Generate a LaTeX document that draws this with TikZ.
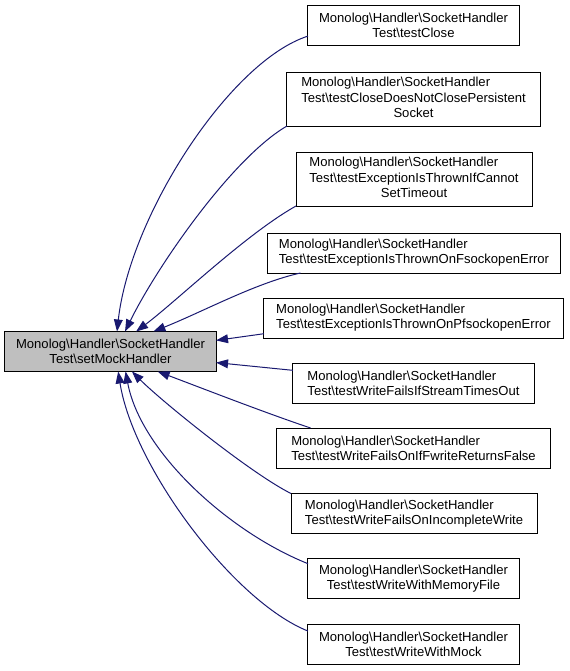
\documentclass[tikz,border=0pt]{standalone}
\usepackage{fontspec}
\setmainfont{Liberation Sans}
\usetikzlibrary{arrows.meta}
\definecolor{edgecol}{HTML}{191970}
\definecolor{fncol}{HTML}{BFBFBF}
\tikzset{fn/.style={draw=black, line width=0.75pt, align=center, inner xsep=2pt, inner ysep=1pt, outer sep=0pt,
                    minimum height=30pt, font=\fontsize{9.8}{11.3}\selectfont},
         tall/.style={minimum height=40.5pt},
         edge/.style={draw=edgecol, line width=0.75pt, -{Triangle[length=9pt, width=6.6pt]}}}
\newcommand{\lastline}[1]{\multicolumn{1}{@{}c@{}}{#1}}
\begin{document}
\begin{tikzpicture}[x=0.75pt, y=-0.75pt]
                    \useasboundingbox (0,0) rectangle (569,671);
                    \node[fn, fill=fncol, minimum width=158.3pt] (main) at (110.5,351.5) {Monolog\textbackslash Handler\textbackslash SocketHandler\\Test\textbackslash setMockHandler};

                    \node[fn, minimum width=158.3pt] (c1) at (413.5,25) {Monolog\textbackslash Handler\textbackslash SocketHandler\\Test\textbackslash testClose};
                    \node[fn, tall, minimum width=189.8pt] (c2) at (413.5,99) {\begin{tabular}{@{}l@{}}Monolog\textbackslash Handler\textbackslash SocketHandler\\Test\textbackslash testCloseDoesNotClosePersistent\\\lastline{Socket}\end{tabular}};
                    \node[fn, tall, minimum width=177pt] (c3) at (414,179) {\begin{tabular}{@{}l@{}}Monolog\textbackslash Handler\textbackslash SocketHandler\\Test\textbackslash testExceptionIsThrownIfCannot\\\lastline{SetTimeout}\end{tabular}};
                    \node[fn, align=left, minimum width=219.8pt] (c4) at (414,253) {Monolog\textbackslash Handler\textbackslash SocketHandler\\Test\textbackslash testExceptionIsThrownOnFsockopenError};
                    \node[fn, align=left, minimum width=224.3pt] (c5) at (413.5,318) {Monolog\textbackslash Handler\textbackslash SocketHandler\\Test\textbackslash testExceptionIsThrownOnPfsockopenError};
                    \node[fn, align=left, minimum width=180.8pt] (c6) at (413.5,383) {Monolog\textbackslash Handler\textbackslash SocketHandler\\Test\textbackslash testWriteFailsIfStreamTimesOut};
                    \node[fn, align=left, minimum width=204.8pt] (c7) at (413.5,448) {Monolog\textbackslash Handler\textbackslash SocketHandler\\Test\textbackslash testWriteFailsOnIfFwriteReturnsFalse};
                    \node[fn, align=left, minimum width=184.5pt] (c8) at (414,513.5) {Monolog\textbackslash Handler\textbackslash SocketHandler\\Test\textbackslash testWriteFailsOnIncompleteWrite};
                    \node[fn, minimum width=158.3pt] (c9) at (413.5,578.5) {Monolog\textbackslash Handler\textbackslash SocketHandler\\Test\textbackslash testWriteWithMemoryFile};
                    \node[fn, minimum width=158.3pt] (c10) at (413.5,644) {Monolog\textbackslash Handler\textbackslash SocketHandler\\Test\textbackslash testWriteWithMock};

                    \draw[edge] (c1.186.5) .. controls +(-78,25) and +(13,-116) .. (main.72.4);
                    \draw[edge] (c2.south west) .. controls +(-55,32) and +(32,-65) .. (main.54.7);
                    \draw[edge] (c3.south west) .. controls +(-50,28) and +(40,-30) .. (main.38.8);
                    \draw[edge] (c4.190.9) .. controls +(-45,10) and +(50,-20) .. (main.25.7);
                    \draw[edge] (c5.186.1) -- (main.6.2);
                    \draw[edge] (c6.174.3) -- (main.-6.8);
                    \draw[edge] (c7.169.1) .. controls +(-45,-15) and +(40,15) .. (main.-23.2);
                    \draw[edge] (c8.north west) .. controls +(-40,-20) and +(30,30) .. (main.-43.6);
                    \draw[edge] (c9.172.7) .. controls +(-80,-32) and +(15,80) .. (main.-53.4);
                    \draw[edge] (c10.173.5) .. controls +(-75,-30) and +(15,95) .. (main.-69);
                \end{tikzpicture}
\end{document}
